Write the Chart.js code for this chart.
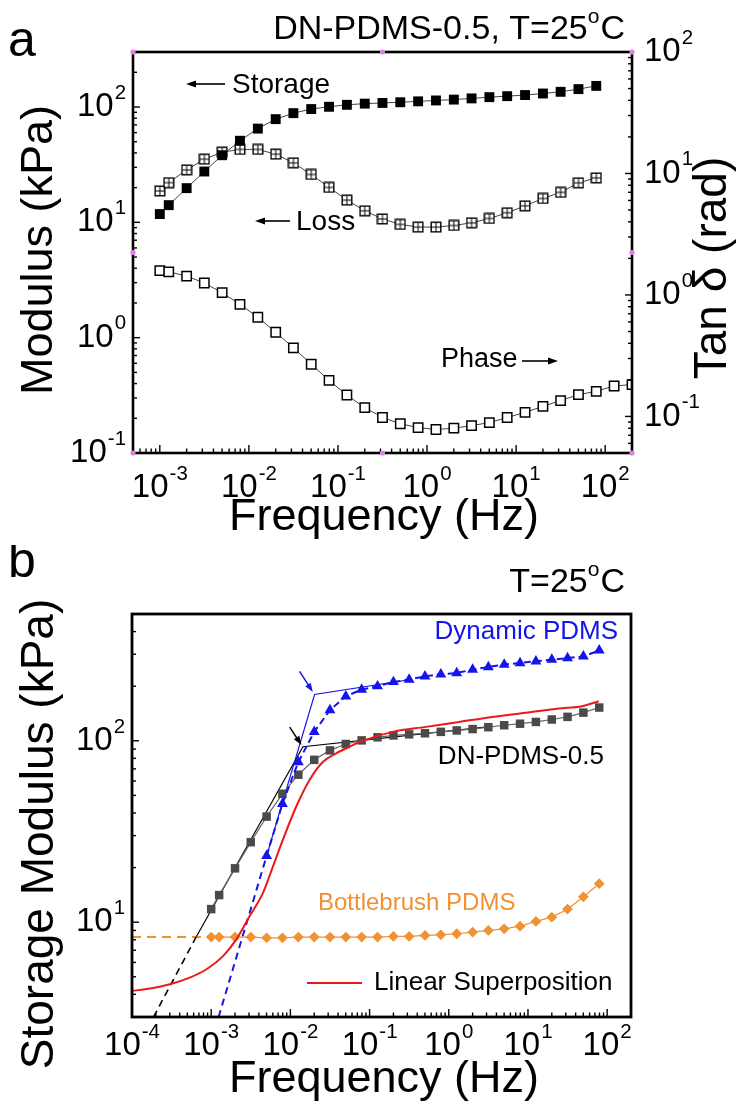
<!DOCTYPE html>
<html><head><meta charset="utf-8">
<script src="https://cdn.jsdelivr.net/npm/chart.js@4.4.1/dist/chart.umd.min.js"></script>
<style>
html,body{margin:0;padding:0;background:#fff;}
#wrap{position:relative;width:737px;height:1104px;overflow:hidden;}
canvas{position:absolute;left:0;}
#ca{top:0;width:737px;height:545px;}
#cb{top:545px;width:737px;height:559px;}
</style></head><body>
<div id="wrap">
<canvas id="ca" width="737" height="545"></canvas>
<canvas id="cb" width="737" height="559"></canvas>
</div>
<script>
// ---------------- DATA ----------------
// Panel a : DN-PDMS-0.5, frequency sweep (Hz)
const freq = [0.001,0.00126,0.002,0.00316,0.00501,0.00794,0.0126,0.02,0.0316,0.0501,0.0794,0.126,0.2,0.316,0.501,0.794,1.26,2,3.16,5.01,7.94,12.6,20,31.6,50.1,79.4];
const freqPhase = [0.001,0.00126,0.002,0.00316,0.00501,0.00794,0.0126,0.02,0.0316,0.0501,0.0794,0.126,0.2,0.316,0.501,0.794,1.26,2,3.16,5.01,7.94,12.6,20,31.6,50.1,79.4,126,200];
const storageDN = [11.8,14.1,19.8,27.6,38.2,51,65,78.5,88.5,96,100.5,104.5,107,108.5,110,112,114,116,118.8,121.8,124.2,127,131,135.5,143,152.5];
const lossDN = [18.7,22.1,28.5,35.3,40.6,42.9,42.9,39,32.8,26,20.1,15.6,12.6,10.7,9.6,9.1,9.1,9.4,9.9,10.8,12.1,13.9,16.1,18.2,22,24.3];
const phaseDN = [1.585,1.55,1.43,1.255,1.044,0.837,0.655,0.493,0.367,0.269,0.198,0.150,0.118,0.098,0.087,0.081,0.078,0.080,0.084,0.089,0.098,0.108,0.121,0.135,0.151,0.161,0.178,0.183];

// Panel b
const freqDynamic = [0.00501,0.00794,0.0126,0.02,0.0316,0.0501,0.0794,0.126,0.2,0.316,0.501,0.794,1.26,2,3.16,5.01,7.94,12.6,20,31.6,50.1,79.4];
const storageDynamic = [23.2,44.9,76.4,112,147.5,176,191.6,200,211,217.5,226.8,232.5,236.4,246.8,255.2,263,268.5,274.2,280,285.8,291.9,315];
const storageBottlebrush = [8.27,8.27,8.27,8.27,8.2,8.2,8.27,8.27,8.27,8.27,8.27,8.27,8.34,8.34,8.45,8.52,8.63,8.81,9.0,9.19,9.5,10.1,10.65,11.8,13.8,16.3];
const linSupFreq = [1.0e-4,1.69e-4,3.01e-4,5.37e-4,8.73e-4,1.41e-3,2.08e-3,3.06e-3,4.51e-3,6.03e-3,8.05e-3,0.01186,0.01746,0.02564,0.03784,0.05572,0.0745,0.1954,0.5152,1.352,3.548,9.354,24.55,48.3,78.3];
const linSupModulus = [4.18,4.31,4.55,4.95,5.50,6.50,8.04,10.8,14.5,20.3,28.5,43.4,60.8,76.4,85.3,92.7,98.4,112,119.3,127,135.4,142.6,150.7,155.2,165.2];
// construction lines (power-law extrapolation / tangents)
const blueExtrapX = [1.24e-3,0.00501], blueExtrapY = [3,23.2];
const blueTangentX = [0.00501,0.0202,0.316], blueTangentY = [23.2,180,217];
const blackExtrapX = [1.87e-4,6.54e-4], blackExtrapY = [3,8.37];
const blackTangentX = [6.54e-4,0.0144,3.07], blackTangentY = [8.37,92.7,119.4];
const orangeExtrapX = [1e-4,0.001], orangeExtrapY = [8.27,8.27];
// arrows marking crossover points [tailX, tailY, headX, headY]
const arrowBlack = [0.0098,119,0.01383,94.7];
const arrowBlue = [0.01306,241.6,0.0192,185.7];

// tick labels (exponents of 10)
const aXExp = [-3,-2,-1,0,1,2];
const aYExp = [-1,0,1,2];
const aY2Exp = [-1,0,1,2];
const bXExp = [-4,-3,-2,-1,0,1,2];
const bYExp = [1,2];

// ---------------- HELPERS ----------------
const FONT = '"Liberation Sans", Arial, Helvetica, sans-serif';
const F = s => s + 'px ' + FONT;
const pts = (xs, ys) => xs.map((x, i) => ({x: x, y: ys[i]}));

function minorTicks(min, max){
  const out = [];
  const d0 = Math.floor(Math.log10(min)), d1 = Math.ceil(Math.log10(max));
  for (let d = d0; d <= d1; d++) for (let m = 2; m <= 9; m++){
    const v = m * Math.pow(10, d);
    if (v > min * 1.0001 && v < max * 0.9999) out.push(v);
  }
  return out;
}
function drawTicks(ctx, area, scale, side, majors, minors, majLen, minLen){
  ctx.save(); ctx.strokeStyle = '#000'; ctx.lineWidth = 1.4;
  const draw = (v, len) => {
    const p = scale.getPixelForValue(v);
    ctx.beginPath();
    if (side === 'bottom'){ ctx.moveTo(p, area.bottom); ctx.lineTo(p, area.bottom - len); }
    else if (side === 'left'){ ctx.moveTo(area.left, p); ctx.lineTo(area.left + len, p); }
    else { ctx.moveTo(area.right, p); ctx.lineTo(area.right - len, p); }
    ctx.stroke();
  };
  majors.forEach(v => draw(v, majLen)); minors.forEach(v => draw(v, minLen));
  ctx.restore();
}
function drawPow(ctx, x, y, exp, size, align){
  const base = '10', e = String(exp);
  ctx.save();
  ctx.fillStyle = '#000'; ctx.textBaseline = 'middle'; ctx.textAlign = 'left';
  ctx.font = F(size); const wb = ctx.measureText(base).width;
  const es = size * 0.62; ctx.font = F(es); const we = ctx.measureText(e).width;
  const w = wb + we + 1;
  const x0 = align === 'center' ? x - w / 2 : (align === 'right' ? x - w : x);
  ctx.font = F(size); ctx.fillText(base, x0, y);
  ctx.font = F(es); ctx.fillText(e, x0 + wb + 1, y - size * 0.42);
  ctx.restore();
}
function text(ctx, s, x, y, size, color, align, rot){
  ctx.save(); ctx.fillStyle = color || '#000'; ctx.font = F(size);
  ctx.textBaseline = 'middle'; ctx.textAlign = align || 'left';
  ctx.translate(x, y); if (rot) ctx.rotate(rot);
  ctx.fillText(s, 0, 0); ctx.restore();
}
function tempText(ctx, prefix, xRight, y, size){
  ctx.save(); ctx.fillStyle = '#000'; ctx.textBaseline = 'middle'; ctx.textAlign = 'left';
  ctx.font = F(size); const w1 = ctx.measureText(prefix + 'T=25').width; const w3 = ctx.measureText('C').width;
  const ss = size * 0.62; ctx.font = F(ss); const w2 = ctx.measureText('o').width;
  let x = xRight - (w1 + w2 + w3 + 1);
  ctx.font = F(size); ctx.fillText(prefix + 'T=25', x, y);
  ctx.font = F(ss); ctx.fillText('o', x + w1, y - size * 0.38);
  ctx.font = F(size); ctx.fillText('C', x + w1 + w2 + 1, y);
  ctx.restore();
}
function arrow(ctx, x1, y1, x2, y2, color, lw, hl, hw){
  const a = Math.atan2(y2 - y1, x2 - x1), c = Math.cos(a), s = Math.sin(a);
  ctx.save(); ctx.strokeStyle = color; ctx.fillStyle = color; ctx.lineWidth = lw;
  ctx.beginPath(); ctx.moveTo(x1, y1); ctx.lineTo(x2 - c * hl * 0.7, y2 - s * hl * 0.7); ctx.stroke();
  ctx.beginPath(); ctx.moveTo(x2, y2);
  ctx.lineTo(x2 - c * hl + s * hw, y2 - s * hl - c * hw);
  ctx.lineTo(x2 - c * hl - s * hw, y2 - s * hl + c * hw);
  ctx.closePath(); ctx.fill(); ctx.restore();
}
function handle(ctx, x, y){
  ctx.save(); ctx.fillStyle = '#e07fe6'; ctx.beginPath(); ctx.arc(x, y, 2.6, 0, Math.PI * 2); ctx.fill(); ctx.restore();
}

// crossed-square marker for loss modulus
const lossMarker = (() => {
  const c = document.createElement('canvas'); c.width = 12; c.height = 12;
  const g = c.getContext('2d');
  g.fillStyle = '#fff'; g.fillRect(1, 1, 10, 10);
  g.strokeStyle = '#000'; g.lineWidth = 1.4; g.strokeRect(1.2, 1.2, 9.6, 9.6);
  g.lineWidth = 1; g.beginPath(); g.moveTo(6, 1.5); g.lineTo(6, 10.5); g.moveTo(1.5, 6); g.lineTo(10.5, 6); g.stroke();
  return c;
})();

// ---------------- PANEL A ----------------
const panelA = {
  id: 'panelA',
  afterDraw(chart){
    const ctx = chart.ctx, A = chart.chartArea, sx = chart.scales.x, sy = chart.scales.y, sy2 = chart.scales.y2;
    ctx.save();
    drawTicks(ctx, A, sx, 'bottom', aXExp.map(e => Math.pow(10, e)), minorTicks(sx.min, sx.max), 8, 4.5);
    drawTicks(ctx, A, sy, 'left', aYExp.map(e => Math.pow(10, e)), minorTicks(sy.min, sy.max), 7, 4);
    drawTicks(ctx, A, sy2, 'right', aY2Exp.map(e => Math.pow(10, e)).filter(v => v < sy2.max), minorTicks(sy2.min, sy2.max), 7, 4);
    ctx.strokeStyle = '#000'; ctx.lineWidth = 2.6;
    ctx.strokeRect(A.left, A.top, A.right - A.left, A.bottom - A.top);
    const mx = (A.left + A.right) / 2, my = (A.top + A.bottom) / 2;
    [[A.left,A.top],[mx,A.top],[A.right,A.top],[A.left,my],[A.right,my],[A.left,A.bottom],[mx,A.bottom],[A.right,A.bottom]].forEach(p => handle(ctx, p[0], p[1]));
    aXExp.forEach(e => drawPow(ctx, sx.getPixelForValue(Math.pow(10, e)), 488, e, 33, 'center'));
    aYExp.forEach(e => drawPow(ctx, A.left - 7, sy.getPixelForValue(Math.pow(10, e)), e, 33, 'right'));
    aY2Exp.forEach(e => drawPow(ctx, A.right + 12, sy2.getPixelForValue(Math.pow(10, e)), e, 33, 'left'));
    text(ctx, 'Frequency (Hz)', 384, 518, 45, '#000', 'center');
    text(ctx, 'Modulus (kPa)', 40, 250, 45, '#000', 'center', -Math.PI / 2);
    text(ctx, 'Tan \u03b4 (rad)', 713, 268, 46, '#000', 'center', -Math.PI / 2);
    text(ctx, 'a', 8, 42, 50, '#000', 'left');
    tempText(ctx, 'DN-PDMS-0.5, ', 625, 30, 34);
    text(ctx, 'Storage', 232, 85, 28, '#000', 'left');
    arrow(ctx, 225, 84, 186, 84, '#000', 1.6, 10, 3.5);
    text(ctx, 'Loss', 296, 222, 28, '#000', 'left');
    arrow(ctx, 290, 221, 255, 221, '#000', 1.6, 10, 3.5);
    text(ctx, 'Phase', 441, 360, 27, '#000', 'left');
    arrow(ctx, 522, 361, 558, 361, '#000', 1.6, 10, 3.5);
    ctx.restore();
  }
};

new Chart(document.getElementById('ca'), {
  type: 'line',
  data: { datasets: [
    { label: 'Storage', data: pts(freq, storageDN), yAxisID: 'y', borderColor: '#444', borderWidth: 1,
      pointStyle: 'rect', pointRadius: 7, pointBackgroundColor: '#000', pointBorderColor: '#000', pointBorderWidth: 0 },
    { label: 'Loss', data: pts(freq, lossDN), yAxisID: 'y', borderColor: '#444', borderWidth: 1,
      pointStyle: lossMarker, pointRadius: 6 },
    { label: 'Phase', data: pts(freqPhase, phaseDN), yAxisID: 'y2', borderColor: '#444', borderWidth: 1,
      pointStyle: 'rect', pointRadius: 6.6, pointBackgroundColor: '#fff', pointBorderColor: '#000', pointBorderWidth: 1.5 }
  ]},
  options: {
    responsive: false, animation: false, devicePixelRatio: 1,
    layout: { padding: { left: 133, right: 105, top: 52, bottom: 92 } },
    scales: {
      x: { type: 'logarithmic', min: 5e-4, max: 200, display: false },
      y: { type: 'logarithmic', min: 0.1, max: 300, display: false },
      y2: { type: 'logarithmic', min: 0.05, max: 100, display: false }
    },
    plugins: { legend: { display: false }, tooltip: { enabled: false } }
  },
  plugins: [panelA]
});

// ---------------- PANEL B ----------------
const BT = 545; // canvas offset on page
const BLUE = 'rgb(20,20,235)', ORANGE = 'rgb(240,145,50)', RED = 'rgb(235,25,25)', GRAY = '#4a4a4a';
const panelB = {
  id: 'panelB',
  afterDraw(chart){
    const ctx = chart.ctx, A = chart.chartArea, sx = chart.scales.x, sy = chart.scales.y;
    ctx.save();
    drawTicks(ctx, A, sx, 'bottom', bXExp.map(e => Math.pow(10, e)).filter(v => v > sx.min * 1.001), minorTicks(sx.min, sx.max), 8, 4.5);
    drawTicks(ctx, A, sy, 'left', bYExp.map(e => Math.pow(10, e)), minorTicks(sy.min, sy.max), 7, 4);
    ctx.strokeStyle = '#000'; ctx.lineWidth = 2.8;
    ctx.strokeRect(A.left, A.top, A.right - A.left, A.bottom - A.top);
    bXExp.forEach(e => drawPow(ctx, sx.getPixelForValue(Math.pow(10, e)), 1046 - BT, e, 33, 'center'));
    bYExp.forEach(e => drawPow(ctx, A.left - 7, sy.getPixelForValue(Math.pow(10, e)), e, 33, 'right'));
    text(ctx, 'Frequency (Hz)', 384, 1080 - BT, 45, '#000', 'center');
    text(ctx, 'Storage Modulus (kPa)', 40, 834 - BT, 46, '#000', 'center', -Math.PI / 2);
    text(ctx, 'b', 8, 563 - BT, 50, '#000', 'left');
    tempText(ctx, '', 625, 583 - BT, 34);
    text(ctx, 'Dynamic PDMS', 618, 632 - BT, 26, BLUE, 'right');
    text(ctx, 'DN-PDMS-0.5', 604, 757 - BT, 26, '#000', 'right');
    text(ctx, 'Bottlebrush PDMS', 318, 903 - BT, 24, ORANGE, 'left');
    text(ctx, 'Linear Superposition', 374, 983 - BT, 26, '#000', 'left');
    ctx.strokeStyle = RED; ctx.lineWidth = 2; ctx.beginPath(); ctx.moveTo(307, 983 - BT); ctx.lineTo(362, 983 - BT); ctx.stroke();
    const px = v => sx.getPixelForValue(v), py = v => sy.getPixelForValue(v);
    arrow(ctx, px(arrowBlack[0]), py(arrowBlack[1]), px(arrowBlack[2]), py(arrowBlack[3]), '#000', 1.5, 9, 3.2);
    arrow(ctx, px(arrowBlue[0]), py(arrowBlue[1]), px(arrowBlue[2]), py(arrowBlue[3]), BLUE, 1.5, 9, 3.2);
    ctx.restore();
  }
};

new Chart(document.getElementById('cb'), {
  type: 'line',
  data: { datasets: [
    { label: 'Dynamic PDMS', data: pts(freqDynamic, storageDynamic), borderColor: BLUE, borderWidth: 2, borderDash: [7, 4],
      pointStyle: 'triangle', pointRadius: 6.3, pointBackgroundColor: BLUE, pointBorderColor: BLUE, pointBorderWidth: 0 },
    { label: 'Linear Superposition', data: pts(linSupFreq, linSupModulus), borderColor: RED, borderWidth: 2,
      pointRadius: 0, cubicInterpolationMode: 'monotone' },
    { label: 'DN-PDMS-0.5', data: pts(freq, storageDN), borderColor: '#666', borderWidth: 1.2,
      pointStyle: 'rect', pointRadius: 6, pointBackgroundColor: GRAY, pointBorderColor: GRAY, pointBorderWidth: 0 },
    { label: 'Bottlebrush PDMS', data: pts(freq, storageBottlebrush), borderColor: ORANGE, borderWidth: 1.2,
      pointStyle: 'rectRot', pointRadius: 5.4, pointBackgroundColor: ORANGE, pointBorderColor: ORANGE, pointBorderWidth: 0 },
    { label: 'blueTangent', data: pts(blueTangentX, blueTangentY), borderColor: BLUE, borderWidth: 1.2, pointRadius: 0 },
    { label: 'blueExtrap', data: pts(blueExtrapX, blueExtrapY), borderColor: BLUE, borderWidth: 2, borderDash: [7, 5], pointRadius: 0 },
    { label: 'blackTangent', data: pts(blackTangentX, blackTangentY), borderColor: '#000', borderWidth: 1.2, pointRadius: 0 },
    { label: 'blackExtrap', data: pts(blackExtrapX, blackExtrapY), borderColor: '#000', borderWidth: 1.6, borderDash: [7, 5], pointRadius: 0 },
    { label: 'orangeExtrap', data: pts(orangeExtrapX, orangeExtrapY), borderColor: ORANGE, borderWidth: 2, borderDash: [9, 6], pointRadius: 0 }
  ]},
  options: {
    responsive: false, animation: false, devicePixelRatio: 1,
    layout: { padding: { left: 132, right: 106, top: 614 - BT, bottom: 1104 - 1017 } },
    scales: {
      x: { type: 'logarithmic', min: 1e-4, max: 200, display: false },
      y: { type: 'logarithmic', min: 3, max: 500, display: false }
    },
    plugins: { legend: { display: false }, tooltip: { enabled: false } }
  },
  plugins: [panelB]
});
</script>
</body></html>
